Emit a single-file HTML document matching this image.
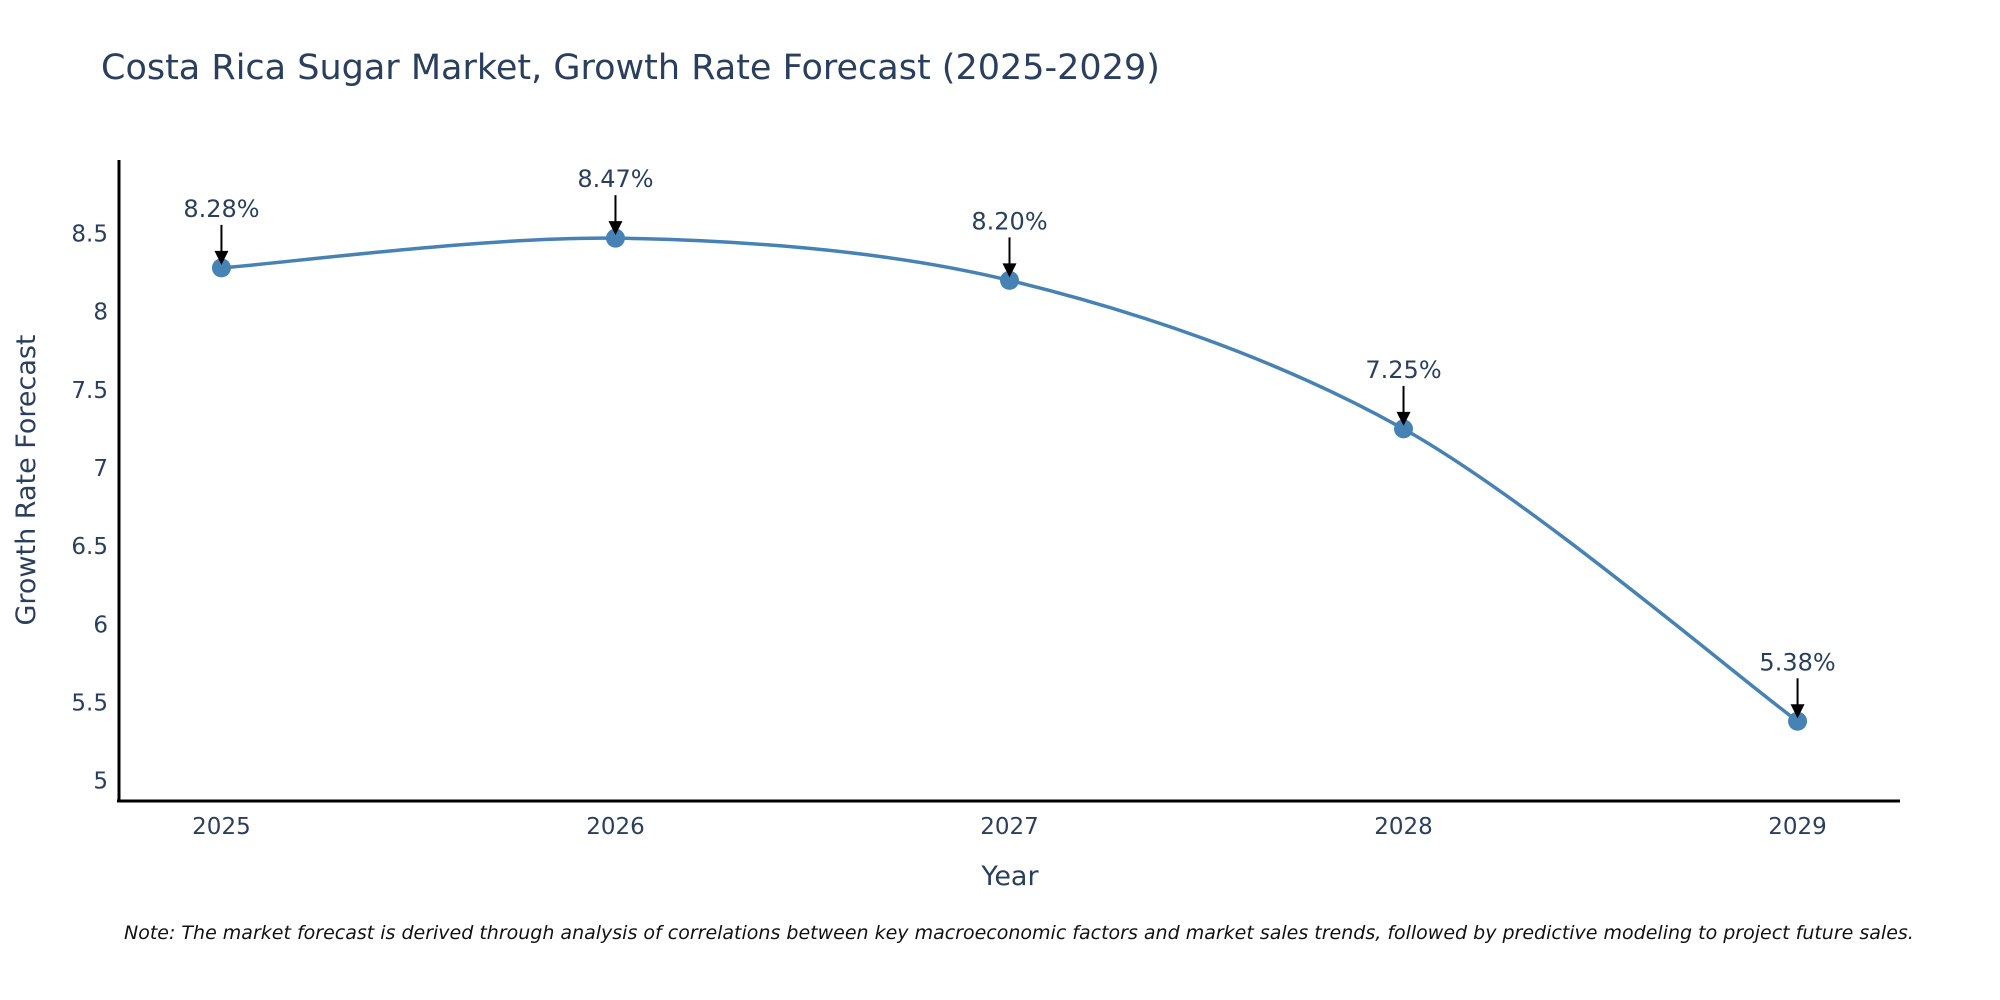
<!DOCTYPE html>
<html><head><meta charset="utf-8">
<style>
html,body{margin:0;padding:0;background:#fff;}
svg{display:block;font-family:"DejaVu Sans","Liberation Sans",sans-serif;}
</style></head>
<body>
<svg id="chart" width="2000" height="1000" viewBox="0 0 2000 1000" xmlns="http://www.w3.org/2000/svg">
<rect width="2000" height="1000" fill="#fff"/>
<text x="101" y="79" font-size="35" fill="#2a3f5f">Costa Rica Sugar Market, Growth Rate Forecast (2025-2029)</text>
<g id="series"></g>
<g id="annotations"></g>
<line x1="119" y1="160" x2="119" y2="802" stroke="#000" stroke-width="3"/>
<line x1="117" y1="801" x2="1900" y2="801" stroke="#000" stroke-width="3"/>
<g id="yticks"></g>
<g id="xticks"></g>
<text x="1010" y="885" font-size="27" fill="#2a3f5f" text-anchor="middle">Year</text>
<text transform="translate(35,480) rotate(-90)" font-size="27" fill="#2a3f5f" text-anchor="middle">Growth Rate Forecast</text>
<text x="124" y="939" font-size="19" font-style="italic" fill="#111">Note: The market forecast is derived through analysis of correlations between key macroeconomic factors and market sales trends, followed by predictive modeling to project future sales.</text>
</svg>
<script>
const years = [2025, 2026, 2027, 2028, 2029];
const growth = [8.28, 8.47, 8.20, 7.25, 5.38];
const labels = ["8.28%", "8.47%", "8.20%", "7.25%", "5.38%"];
const yTicks = [5, 5.5, 6, 6.5, 7, 7.5, 8, 8.5];
const yTickLabels = ["5", "5.5", "6", "6.5", "7", "7.5", "8", "8.5"];

const NS = "http://www.w3.org/2000/svg";
const X0 = 119, X1 = 1900, Y0 = 801, Y1 = 160;
const xMin = 2024.74, xMax = 2029.26, yMin = 4.87, yMax = 8.97;
function xs(v){ return X0 + (v - xMin) / (xMax - xMin) * (X1 - X0); }
function ys(v){ return Y0 - (v - yMin) / (yMax - yMin) * (Y0 - Y1); }
function mk(tag, attrs, parent){ const e = document.createElementNS(NS, tag); for (const k in attrs) e.setAttribute(k, attrs[k]); parent.appendChild(e); return e; }

const yt = document.getElementById('yticks');
yTicks.forEach((t, i) => {
  const e = mk('text', {x: 108, y: ys(t) + 8, 'font-size': 23, fill: '#2a3f5f', 'text-anchor': 'end'}, yt);
  
  
  e.textContent = yTickLabels[i];
});
const xt = document.getElementById('xticks');
years.forEach(y => {
  const e = mk('text', {x: xs(y), y: 834, 'font-size': 23, fill: '#2a3f5f', 'text-anchor': 'middle'}, xt);
  
  
  e.textContent = String(y);
});

const pts = years.map((y, i) => [xs(y), ys(growth[i])]);
let d = `M${pts[0][0]},${pts[0][1]}`;
const s = 0.16;
for (let i = 0; i < pts.length - 1; i++) {
  const p0 = pts[Math.max(0, i - 1)], p1 = pts[i], p2 = pts[i + 1], p3 = pts[Math.min(pts.length - 1, i + 2)];
  const c1 = [p1[0] + (p2[0] - p0[0]) * s, p1[1] + (p2[1] - p0[1]) * s];
  const c2 = [p2[0] - (p3[0] - p1[0]) * s, p2[1] - (p3[1] - p1[1]) * s];
  d += ` C${c1[0]},${c1[1]} ${c2[0]},${c2[1]} ${p2[0]},${p2[1]}`;
}
const ser = document.getElementById('series');
const line = mk('path', {d: d, fill: 'none', stroke: '#4682b4', 'stroke-width': 3.5}, ser);


pts.forEach((p, i) => {
  const c = mk('circle', {cx: p[0], cy: p[1], r: 9.5, fill: '#4682b4'}, ser);
  
  
});

const an = document.getElementById('annotations');
pts.forEach((p, i) => {
  const l = mk('line', {x1: p[0], y1: p[1] - 43, x2: p[0], y2: p[1] - 14, stroke: '#000', 'stroke-width': 2}, an);
  
  
  const h = mk('polygon', {points: `${p[0]-7},${p[1]-17} ${p[0]+7},${p[1]-17} ${p[0]},${p[1]-3}`, fill: '#000'}, an);
  
  
  const t = mk('text', {x: p[0], y: p[1] - 51, 'font-size': 24, fill: '#2a3f5f', 'text-anchor': 'middle'}, an);
  
  
  t.textContent = labels[i];
});
</script>
</body></html>
